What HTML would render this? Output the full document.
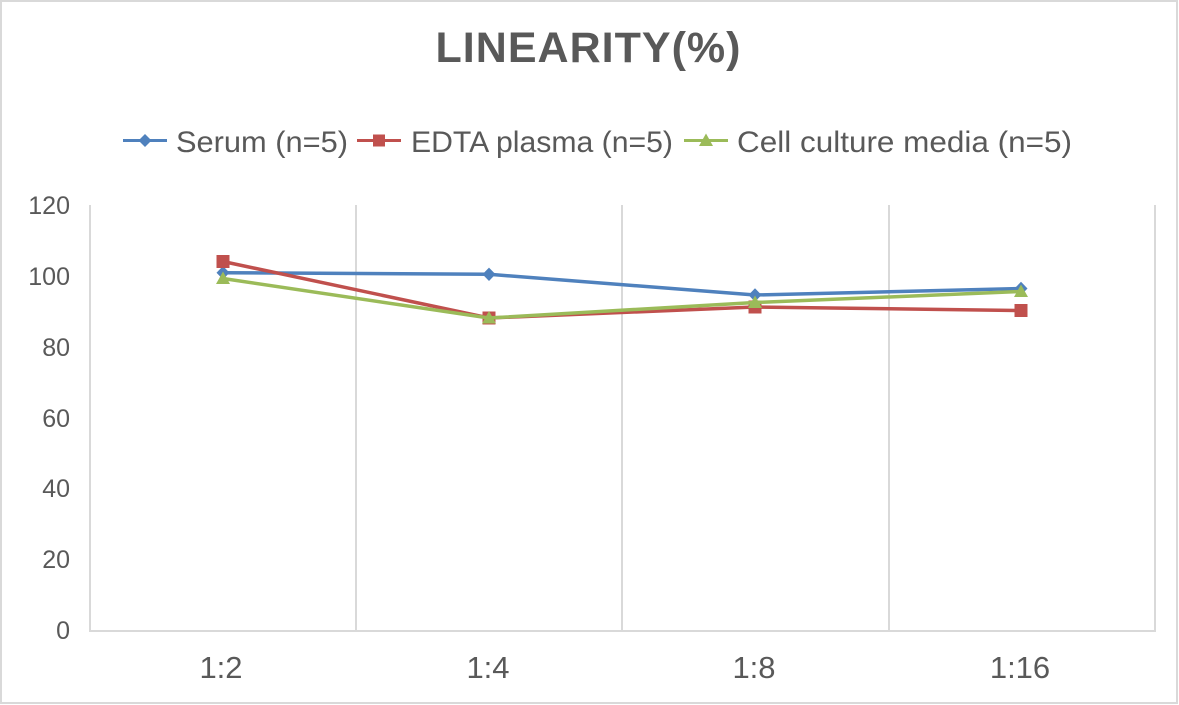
<!DOCTYPE html>
<html><head><meta charset="utf-8"><style>
html,body{margin:0;padding:0;background:#fff;}
svg{display:block;}
text{font-family:"Liberation Sans",sans-serif;fill:#595959;}
</style></head><body>
<svg width="1179" height="705" viewBox="0 0 1179 705" xmlns="http://www.w3.org/2000/svg">
<rect x="0" y="0" width="1179" height="705" fill="#fff"/>
<rect x="1" y="1" width="1176" height="702" fill="none" stroke="#d9d9d9" stroke-width="2"/>
<text x="588" y="62" text-anchor="middle" font-size="43" font-weight="bold" textLength="305" lengthAdjust="spacing">LINEARITY(%)</text>
<!-- legend -->
<line x1="123" y1="140.5" x2="167" y2="140.5" stroke="#4F81BD" stroke-width="3"/>
<polygon points="145,134 151.5,140.5 145,147 138.5,140.5" fill="#4F81BD"/>
<text x="176" y="152" font-size="30" textLength="172" lengthAdjust="spacingAndGlyphs">Serum (n=5)</text>
<line x1="357" y1="140.5" x2="401" y2="140.5" stroke="#C0504D" stroke-width="3"/>
<rect x="373" y="134.5" width="12" height="12" fill="#C0504D"/>
<text x="411" y="152" font-size="30" textLength="262" lengthAdjust="spacingAndGlyphs">EDTA plasma (n=5)</text>
<line x1="684" y1="140.5" x2="728" y2="140.5" stroke="#9BBB59" stroke-width="3"/>
<polygon points="706,133.5 713,146 699,146" fill="#9BBB59"/>
<text x="737" y="152" font-size="30" textLength="335" lengthAdjust="spacingAndGlyphs">Cell culture media (n=5)</text>
<!-- grid -->
<g stroke="#d9d9d9" stroke-width="2">
<line x1="90" y1="205" x2="90" y2="631"/>
<line x1="356" y1="205" x2="356" y2="631"/>
<line x1="622" y1="205" x2="622" y2="631"/>
<line x1="889" y1="205" x2="889" y2="631"/>
<line x1="1155" y1="205" x2="1155" y2="631"/>
<line x1="89" y1="631" x2="1156" y2="631"/>
</g>
<!-- y labels -->
<g font-size="25" text-anchor="end">
<text x="70" y="214">120</text>
<text x="70" y="285">100</text>
<text x="70" y="356">80</text>
<text x="70" y="427">60</text>
<text x="70" y="497">40</text>
<text x="70" y="568">20</text>
<text x="70" y="639">0</text>
</g>
<!-- x labels -->
<g font-size="31" text-anchor="middle">
<text x="221" y="678">1:2</text>
<text x="488" y="678">1:4</text>
<text x="754" y="678">1:8</text>
<text x="1020" y="678">1:16</text>
</g>
<!-- series -->
<polyline points="223,272.7 489,274.3 755,295 1021,288.5" fill="none" stroke="#4F81BD" stroke-width="3.5" stroke-linejoin="round"/>
<g fill="#4F81BD">
<polygon points="223,266 229.5,272.7 223,279.4 216.5,272.7"/>
<polygon points="489,267.6 495.5,274.3 489,281 482.5,274.3"/>
<polygon points="755,288.3 761.5,295 755,301.7 748.5,295"/>
<polygon points="1021,281.8 1027.5,288.5 1021,295.2 1014.5,288.5"/>
</g>
<polyline points="223,261.5 489,318 755,307 1021,310.5" fill="none" stroke="#C0504D" stroke-width="3.5" stroke-linejoin="round"/>
<g fill="#C0504D">
<rect x="216.5" y="255" width="13" height="13"/>
<rect x="482.5" y="311.5" width="13" height="13"/>
<rect x="748.5" y="300.5" width="13" height="13"/>
<rect x="1014.5" y="304" width="13" height="13"/>
</g>
<polyline points="223,278.5 489,318 755,302.5 1021,291.5" fill="none" stroke="#9BBB59" stroke-width="3.5" stroke-linejoin="round"/>
<g fill="#9BBB59">
<polygon points="223,271.5 230,284 216,284"/>
<polygon points="489,311 496,323.5 482,323.5"/>
<polygon points="755,295.5 762,308 748,308"/>
<polygon points="1021,284.5 1028,297 1014,297"/>
</g>
</svg>
</body></html>
